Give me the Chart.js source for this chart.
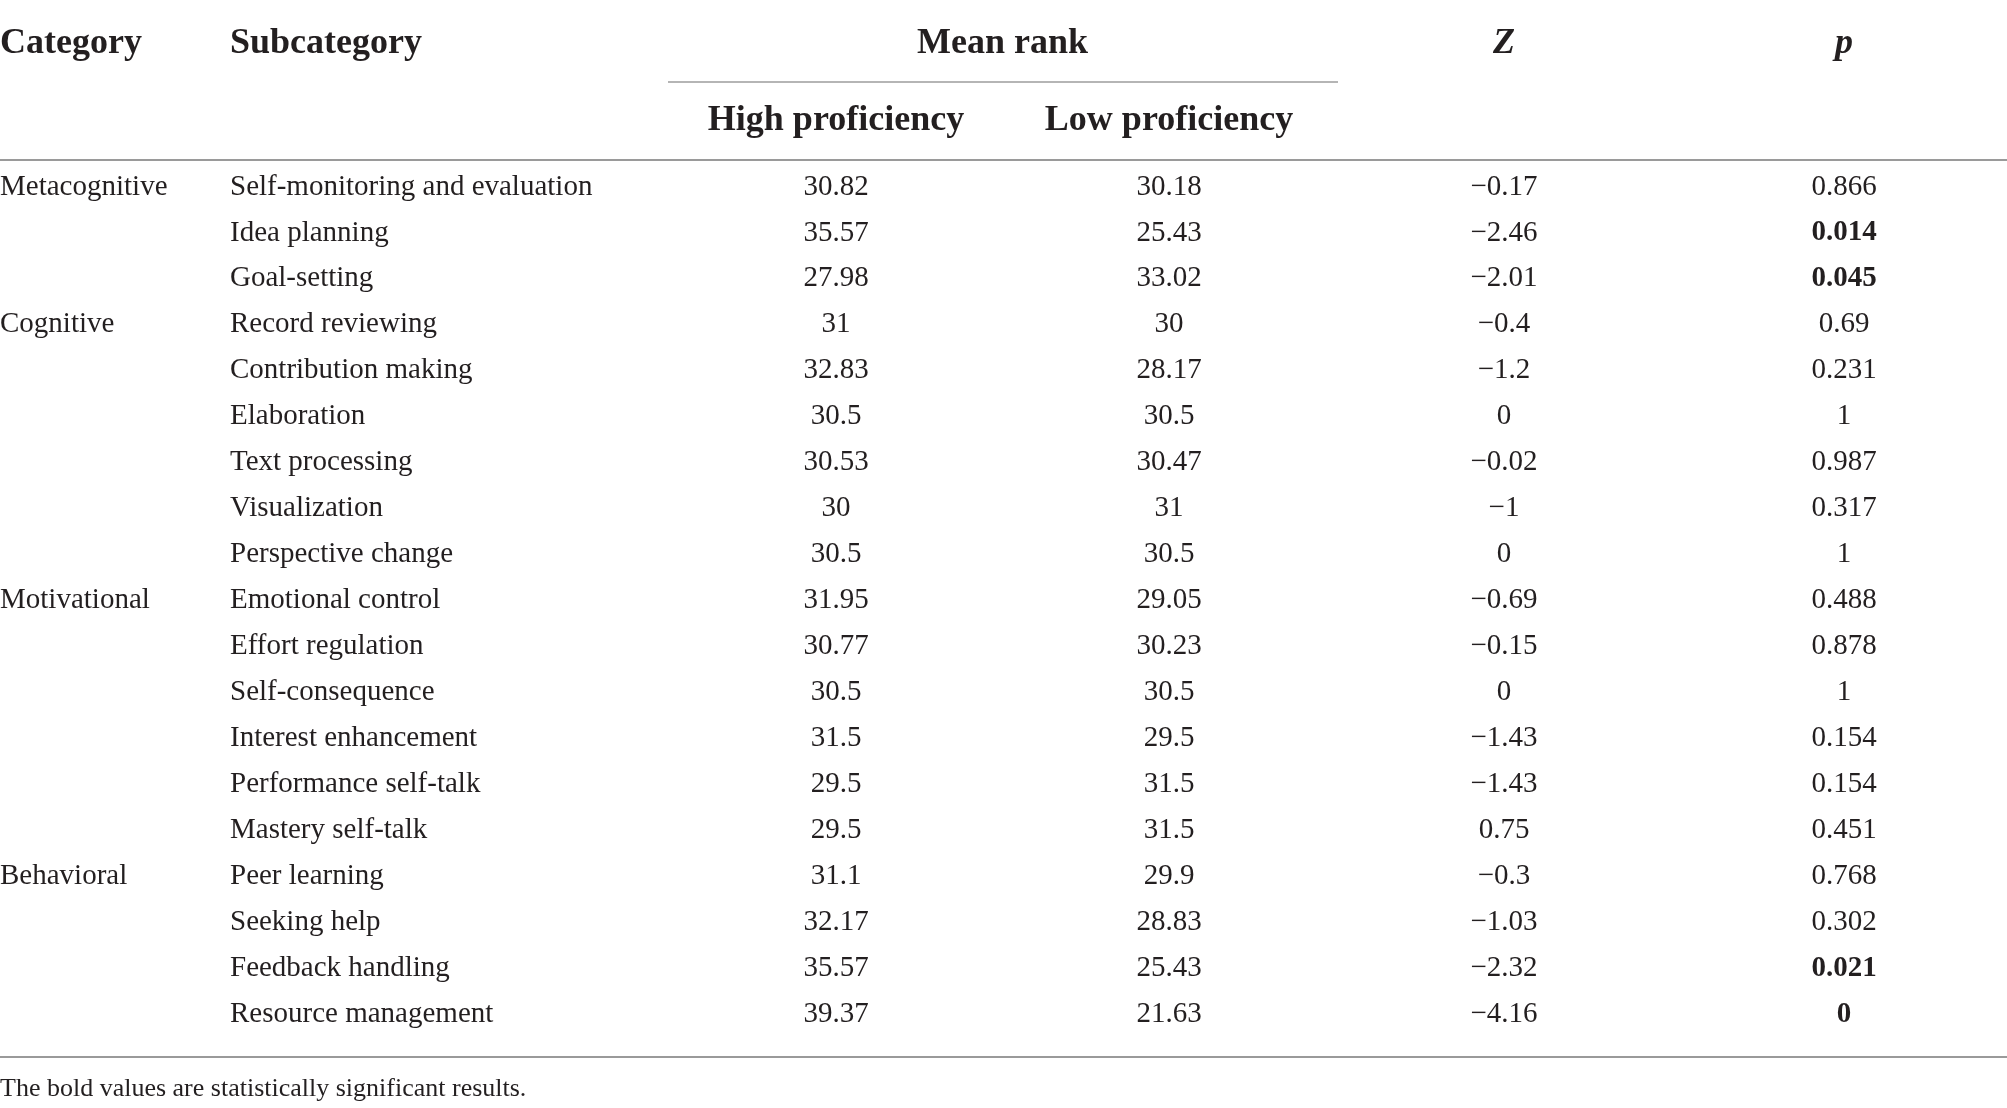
<!DOCTYPE html>
<html lang="en">
<head>
    <meta charset="UTF-8">
    <title>Mean rank table</title>
    <script src="https://cdn.jsdelivr.net/npm/chart.js@4.4.1/dist/chart.umd.min.js"></script>
    <style>
      body { margin: 0; background: #fff; }
    </style>
</head>
<body>
  <canvas id="myChart" width="2007" height="1108"></canvas>
<script>
// table data
var categoryNames = ['Metacognitive', 'Cognitive', 'Motivational', 'Behavioral'];
var categorySpans = [3, 6, 6, 4];
var subcategories = [
    'Self-monitoring and evaluation', 'Idea planning', 'Goal-setting',
    'Record reviewing', 'Contribution making', 'Elaboration', 'Text processing',
    'Visualization', 'Perspective change',
    'Emotional control', 'Effort regulation', 'Self-consequence',
    'Interest enhancement', 'Performance self-talk', 'Mastery self-talk',
    'Peer learning', 'Seeking help', 'Feedback handling', 'Resource management'
];
var highProficiency = [30.82, 35.57, 27.98, 31, 32.83, 30.5, 30.53, 30, 30.5,
    31.95, 30.77, 30.5, 31.5, 29.5, 29.5, 31.1, 32.17, 35.57, 39.37];
var lowProficiency = [30.18, 25.43, 33.02, 30, 28.17, 30.5, 30.47, 31, 30.5,
    29.05, 30.23, 30.5, 29.5, 31.5, 31.5, 29.9, 28.83, 25.43, 21.63];
var zValues = [-0.17, -2.46, -2.01, -0.4, -1.2, 0, -0.02, -1, 0,
    -0.69, -0.15, 0, -1.43, -1.43, 0.75, -0.3, -1.03, -2.32, -4.16];
var pValues = [0.866, 0.014, 0.045, 0.69, 0.231, 1, 0.987, 0.317, 1,
    0.488, 0.878, 1, 0.154, 0.154, 0.451, 0.768, 0.302, 0.021, 0];
var footnote = 'The bold values are statistically significant results.';

// layout (x anchors on a 0..2007 linear scale, header/rule y in px)
var colX = { category: 0, subcategory: 230, high: 836, low: 1169, z: 1504, p: 1844 };
var headY = { top: 44, sub: 121, meanRule: 82, headRule: 160, footRule: 1057, foot: 1089 };
var textColor = '#231f20';
var bodyFont = '29px "Liberation Serif"';
var headFont = 'bold 36px "Liberation Serif"';

function fmt(v) {
  return String(v).replace('-', '\u2212');
}

function column(values, x) {
  return values.map(function(v, i) { return { x: x, y: subcategories[i], v: v }; });
}

var tablePlugin = {
  id: 'tableText',
  afterDatasetsDraw: function(chart) {
    var c = chart.ctx;
    var xs = chart.scales.x, ys = chart.scales.y;
    var W = chart.width;
    c.save();
    c.fillStyle = textColor;
    c.textBaseline = 'middle';

    // header
    c.font = headFont;
    c.textAlign = 'left';
    c.fillText('Category', xs.getPixelForValue(colX.category), headY.top);
    c.fillText('Subcategory', xs.getPixelForValue(colX.subcategory), headY.top);
    c.textAlign = 'center';
    var hx = xs.getPixelForValue(colX.high), lx = xs.getPixelForValue(colX.low);
    c.fillText('Mean rank', (hx + lx) / 2, headY.top);
    c.fillText('High proficiency', hx, headY.sub);
    c.fillText('Low proficiency', lx, headY.sub);
    c.font = 'italic ' + headFont;
    c.fillText('Z', xs.getPixelForValue(colX.z), headY.top);
    c.fillText('p', xs.getPixelForValue(colX.p), headY.top);

    // rules
    c.strokeStyle = '#b5b5b5';
    c.lineWidth = 2;
    c.beginPath();
    c.moveTo(xs.getPixelForValue(668), headY.meanRule);
    c.lineTo(xs.getPixelForValue(1338), headY.meanRule);
    c.stroke();
    c.strokeStyle = '#9a9a9a';
    c.beginPath();
    c.moveTo(0, headY.headRule); c.lineTo(W, headY.headRule);
    c.moveTo(0, headY.footRule); c.lineTo(W, headY.footRule);
    c.stroke();

    // category and subcategory
    c.font = bodyFont;
    c.textAlign = 'left';
    var row = 0;
    categoryNames.forEach(function(name, k) {
      c.fillText(name, xs.getPixelForValue(colX.category), ys.getPixelForValue(row));
      row += categorySpans[k];
    });
    subcategories.forEach(function(s, i) {
      c.fillText(s, xs.getPixelForValue(colX.subcategory), ys.getPixelForValue(i));
    });

    // numeric cells from dataset elements
    c.textAlign = 'center';
    chart.data.datasets.forEach(function(ds, di) {
      var meta = chart.getDatasetMeta(di);
      meta.data.forEach(function(el, i) {
        var v = ds.data[i].v;
        c.font = (ds.label === 'p' && v < 0.05) ? 'bold ' + bodyFont : bodyFont;
        c.fillText(fmt(v), el.x, el.y);
      });
    });

    // footnote
    c.textAlign = 'left';
    c.font = '26px "Liberation Serif"';
    c.fillText(footnote, 0, headY.foot);
    c.restore();
  }
};

var ctx = document.getElementById('myChart').getContext('2d');

var tableData = {
    type: 'scatter',
    data: {
        datasets: [
            { label: 'High proficiency', data: column(highProficiency, colX.high) },
            { label: 'Low proficiency', data: column(lowProficiency, colX.low) },
            { label: 'Z', data: column(zValues, colX.z) },
            { label: 'p', data: column(pValues, colX.p) }
        ]
    },
    options: {
        responsive: false,
        animation: false,
        layout: { padding: { top: 164, bottom: 71, left: 0, right: 0 } },
        elements: { point: { radius: 0, hoverRadius: 0 } },
        plugins: { legend: { display: false }, tooltip: { enabled: false } },
        scales: {
            x: { type: 'linear', min: 0, max: 2007, display: false },
            y: { type: 'category', labels: subcategories, offset: true, display: false }
        }
    },
    plugins: [tablePlugin]
};

var myChart = new Chart(ctx, tableData);
</script>
</body>
</html>
